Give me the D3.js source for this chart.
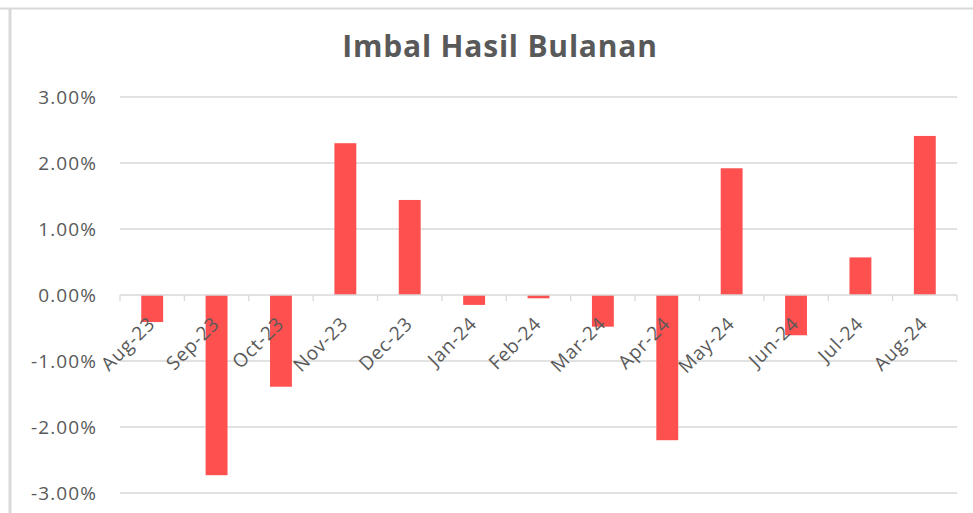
<!DOCTYPE html>
<html><head><meta charset="utf-8">
<script src="https://cdn.jsdelivr.net/npm/d3@7"></script>
<style>body{margin:0;background:#fff}svg{display:block}</style>
</head><body>
<svg id="c" width="973" height="513"></svg>
<script>
const categories = ["Aug-23","Sep-23","Oct-23","Nov-23","Dec-23","Jan-24","Feb-24","Mar-24","Apr-24","May-24","Jun-24","Jul-24","Aug-24"];
const values = [-0.41,-2.73,-1.39,2.30,1.44,-0.15,-0.05,-0.48,-2.20,1.92,-0.61,0.57,2.41];
const yTicks = [-3,-2,-1,0,1,2,3];
const title = "Imbal Hasil Bulanan";

const svg = d3.select("#c");
const font = "'Open Sans', sans-serif";
const textCol = "#595959";
const gridCol = "#d9d9d9";

// frame
svg.append("line").attr("x1",0).attr("x2",973).attr("y1",8.5).attr("y2",8.5).attr("stroke","#d9d9d9").attr("stroke-width",2);
svg.append("line").attr("x1",10).attr("x2",10).attr("y1",8).attr("y2",513).attr("stroke","#d9d9d9").attr("stroke-width",3);

const x = d3.scaleBand().domain(categories).range([120,957]).paddingInner(0.66).paddingOuter(0.33);
const y = d3.scaleLinear().domain([-3,3]).range([493,97]);

// grid
svg.append("g").selectAll("line").data(yTicks.filter(d=>d!==0)).join("line")
  .attr("x1",120).attr("x2",957).attr("y1",d=>y(d)).attr("y2",d=>y(d))
  .attr("stroke",gridCol).attr("stroke-width",1.3);

// y labels
svg.append("g").selectAll("text").data(yTicks).join("text")
  .attr("x",97).attr("y",d=>y(d)).attr("dy","0.36em").attr("text-anchor","end")
  .attr("font-family",font).attr("font-size",19).attr("letter-spacing",1.1).attr("fill",textCol)
  .text(d=>d.toFixed(2)+"%");

// bars
svg.append("g").selectAll("rect").data(values).join("rect")
  .attr("x",(d,i)=>x(categories[i])).attr("width",x.bandwidth())
  .attr("y",d=>y(Math.max(0,d))).attr("height",d=>Math.abs(y(d)-y(0)))
  .attr("fill","#FF5050");

// zero axis
const xAxis = svg.append("g");
xAxis.append("line").attr("x1",120).attr("x2",957).attr("y1",y(0)).attr("y2",y(0)).attr("stroke",gridCol).attr("stroke-width",1.3);
const bounds = d3.range(categories.length+1).map(i=>120+i*(837/categories.length));
xAxis.selectAll("line.t").data(bounds).join("line").attr("class","t")
  .attr("x1",d=>d).attr("x2",d=>d).attr("y1",y(0)).attr("y2",y(0)+6)
  .attr("stroke",gridCol).attr("stroke-width",1.3);

// x labels
svg.append("g").selectAll("text").data(categories).join("text")
  .attr("transform",d=>`translate(${x(d)+x.bandwidth()/2+4},${y(0)+30}) rotate(-45)`)
  .attr("text-anchor","end")
  .attr("font-family",font).attr("font-size",19).attr("letter-spacing",0.8).attr("fill",textCol)
  .text(d=>d);

// title
svg.append("text").attr("x",500).attr("y",57).attr("text-anchor","middle")
  .attr("font-family",font).attr("font-weight","bold").attr("font-size",30).attr("letter-spacing",0.8).attr("fill",textCol)
  .text(title);
</script>
</body></html>
